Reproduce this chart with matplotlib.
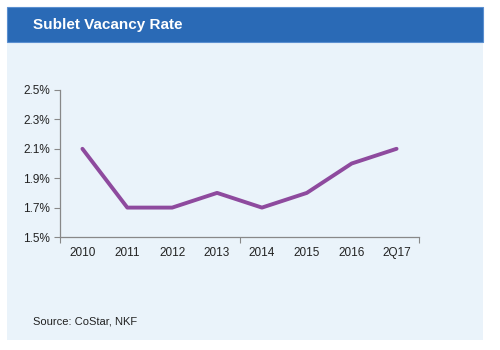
import matplotlib
matplotlib.use("Agg")
import matplotlib.pyplot as plt
from matplotlib.patches import Rectangle
from matplotlib.ticker import FixedLocator, NullFormatter

# data
categories = ["2010", "2011", "2012", "2013", "2014", "2015", "2016", "2Q17"]
sublet_rate = [2.1, 1.7, 1.7, 1.8, 1.7, 1.8, 2.0, 2.1]
y_ticks = [1.5, 1.7, 1.9, 2.1, 2.3, 2.5]

W, H = 500, 350
fig = plt.figure(figsize=(W / 100, H / 100), dpi=100)
fig.patch.set_facecolor("white")


def fx(px):
    return px / W


def fy(py):
    return 1 - py / H


# panel background and header bar
fig.patches.append(Rectangle((fx(7), fy(340)), fx(476), (340 - 42) / H,
                             transform=fig.transFigure, facecolor="#eaf3fa",
                             edgecolor="none", zorder=0))
fig.patches.append(Rectangle((fx(7), fy(42)), fx(476), (42 - 7) / H,
                             transform=fig.transFigure, facecolor="#2a6ab6",
                             edgecolor="#5b8fd0", linewidth=0.8, zorder=1))
fig.text(fx(33), fy(25), "Sublet Vacancy Rate", color="white",
         fontsize=11, fontweight="bold", ha="left", va="center",
         family="Liberation Sans")
fig.text(fx(33), fy(322), "Source: CoStar, NKF", color="#222222",
         fontsize=8, ha="left", va="center", family="Liberation Sans")

ax = fig.add_axes([fx(60), fy(237), fx(419 - 60), (237 - 90) / H])
ax.set_zorder(3)
ax.set_facecolor("none")
x = list(range(len(categories)))
ax.plot(x, sublet_rate, color="#8e4a9e", linewidth=2.8, solid_capstyle="round")

ax.set_xlim(-0.5, len(categories) - 0.5)
ax.set_ylim(1.5, 2.5)
ax.set_yticks(y_ticks)
ax.set_yticklabels([f"{v:.1f}%" for v in y_ticks], family="Liberation Sans",
                   fontsize=8.5, color="#222222")
# category labels centred, tick marks only at the ends and middle
ax.xaxis.set_major_locator(FixedLocator([-0.5, 3.5, 7.5]))
ax.xaxis.set_major_formatter(NullFormatter())
ax.xaxis.set_minor_locator(FixedLocator(x))
ax.set_xticklabels(categories, minor=True, family="Liberation Sans",
                   fontsize=8.5, color="#222222")
for t in ax.get_xticklabels(minor=True):
    t.set_verticalalignment("baseline")
ax.tick_params(axis="x", which="minor", length=0, pad=14)
ax.tick_params(axis="x", which="major", length=4, color="#888888", width=0.8)
ax.tick_params(axis="y", length=4, color="#888888", width=0.8, pad=3)

for side in ("top", "right"):
    ax.spines[side].set_visible(False)
for side in ("left", "bottom"):
    ax.spines[side].set_color("#888888")
    ax.spines[side].set_linewidth(0.9)

fig.savefig("out.png", dpi=100, facecolor="white")
